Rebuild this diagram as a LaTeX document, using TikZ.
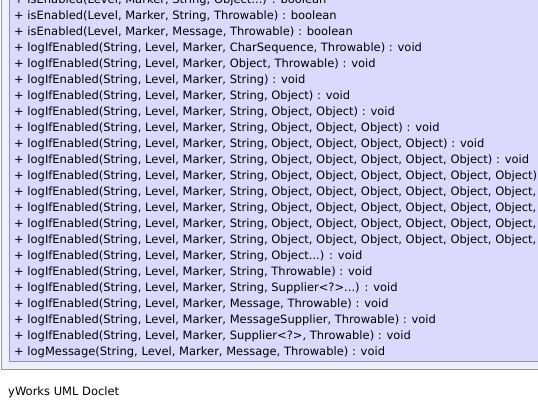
\documentclass[tikz,border=0pt]{standalone}
\usepackage{fontspec}
\setmainfont{DejaVu Sans}
\definecolor{classfill}{RGB}{238,238,255}
\definecolor{opfill}{RGB}{218,218,255}
\definecolor{umlline}{RGB}{150,150,165}
\tikzset{
  op/.style={anchor=base west, inner sep=0pt, font=\fontsize{11.5}{13}\selectfont},
}
\begin{document}
\begin{tikzpicture}[x=1pt,y=-1pt]
\useasboundingbox (0,0) rectangle (538,407);
\begin{scope}
\clip (0,0) rectangle (538,407);
\draw[umlline, fill=classfill] (1.5,-30) rectangle (560,369.5);
\draw[umlline, fill=opfill] (9.5,-30) rectangle (560,361.5);
\end{scope}
\node[op] (r0) at (14,3.5) {+ isEnabled(Level, Marker, String, Object...) : boolean};
\node[op] (r1) at (14,19.5) {+ isEnabled(Level, Marker, String, Throwable) : boolean};
\node[op] (r2) at (14,35.5) {+ isEnabled(Level, Marker, Message, Throwable) : boolean};
\node[op] (r3) at (14,51.5) {+ logIfEnabled(String, Level, Marker, CharSequence, Throwable) : void};
\node[op] (r4) at (14,67.5) {+ logIfEnabled(String, Level, Marker, Object, Throwable) : void};
\node[op] (r5) at (14,83.5) {+ logIfEnabled(String, Level, Marker, String) : void};
\node[op] (r6) at (14,99.5) {+ logIfEnabled(String, Level, Marker, String, Object) : void};
\node[op] (r7) at (14,115.5) {+ logIfEnabled(String, Level, Marker, String, Object, Object) : void};
\node[op] (r8) at (14,131.5) {+ logIfEnabled(String, Level, Marker, String, Object, Object, Object) : void};
\node[op] (r9) at (14,147.5) {+ logIfEnabled(String, Level, Marker, String, Object, Object, Object, Object) : void};
\node[op] (r10) at (14,163.5) {+ logIfEnabled(String, Level, Marker, String, Object, Object, Object, Object, Object) : void};
\node[op] (r11) at (14,179.5) {+ logIfEnabled(String, Level, Marker, String, Object, Object, Object, Object, Object, Object) : void};
\node[op] (r12) at (14,195.5) {+ logIfEnabled(String, Level, Marker, String, Object, Object, Object, Object, Object, Object, Object) : void};
\node[op] (r13) at (14,211.5) {+ logIfEnabled(String, Level, Marker, String, Object, Object, Object, Object, Object, Object, Object, Object) : void};
\node[op] (r14) at (14,227.5) {+ logIfEnabled(String, Level, Marker, String, Object, Object, Object, Object, Object, Object, Object, Object, Object) : void};
\node[op] (r15) at (14,243.5) {+ logIfEnabled(String, Level, Marker, String, Object, Object, Object, Object, Object, Object, Object, Object, Object, Object) : void};
\node[op] (r16) at (14,259.5) {+ logIfEnabled(String, Level, Marker, String, Object...) : void};
\node[op] (r17) at (14,275.5) {+ logIfEnabled(String, Level, Marker, String, Throwable) : void};
\node[op] (r18) at (14,291.5) {+ logIfEnabled(String, Level, Marker, String, Supplier<?>...) : void};
\node[op] (r19) at (14,307.5) {+ logIfEnabled(String, Level, Marker, Message, Throwable) : void};
\node[op] (r20) at (14,323.5) {+ logIfEnabled(String, Level, Marker, MessageSupplier, Throwable) : void};
\node[op] (r21) at (14,339.5) {+ logIfEnabled(String, Level, Marker, Supplier<?>, Throwable) : void};
\node[op] (r22) at (14,355.5) {+ logMessage(String, Level, Marker, Message, Throwable) : void};
\node[op] (doclet) at (8,395) {yWorks UML Doclet};
\end{tikzpicture}
\end{document}
